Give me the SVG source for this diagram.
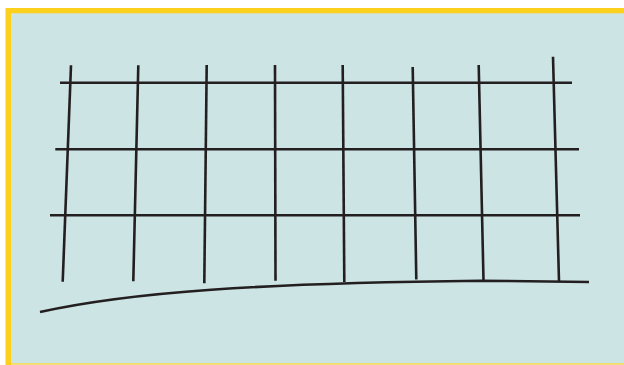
<svg xmlns="http://www.w3.org/2000/svg" width="624" height="365" viewBox="0 0 624 365">
<style>
.ln{stroke:#231f20;stroke-width:2.6;fill:none;stroke-linecap:butt}
</style>
<rect x="0" y="0" width="624" height="365" fill="#ffffff"/>
<g id="frame">
<rect x="5.5" y="8" width="620" height="358" fill="#fcd01c"/>
<rect x="11" y="13.3" width="614" height="350" fill="#cde4e4"/>
<rect x="11" y="363.5" width="614" height="2" fill="#f5e27a"/>
</g>
<g id="connectors">
<line class="ln" x1="60" y1="82.7" x2="572" y2="82.7"/>
<line class="ln" x1="55.3" y1="149.3" x2="579" y2="149.3"/>
<line class="ln" x1="50" y1="215.3" x2="580" y2="215.3"/>
<line class="ln" x1="71" y1="65.3" x2="62.7" y2="281.7"/>
<line class="ln" x1="138.3" y1="65.3" x2="133.3" y2="281.3"/>
<line class="ln" x1="206.7" y1="65" x2="204.3" y2="283.3"/>
<line class="ln" x1="275" y1="65" x2="275.5" y2="280.7"/>
<line class="ln" x1="342.7" y1="65" x2="344.3" y2="282"/>
<line class="ln" x1="412.7" y1="67" x2="416.3" y2="279.5"/>
<line class="ln" x1="478.7" y1="65" x2="483.5" y2="280.7"/>
<line class="ln" x1="553" y1="56.7" x2="559" y2="281.5"/>
<path class="ln" d="M40,312 C130,292 260,283 480,280.7 L589,282"/>
</g>
</svg>
